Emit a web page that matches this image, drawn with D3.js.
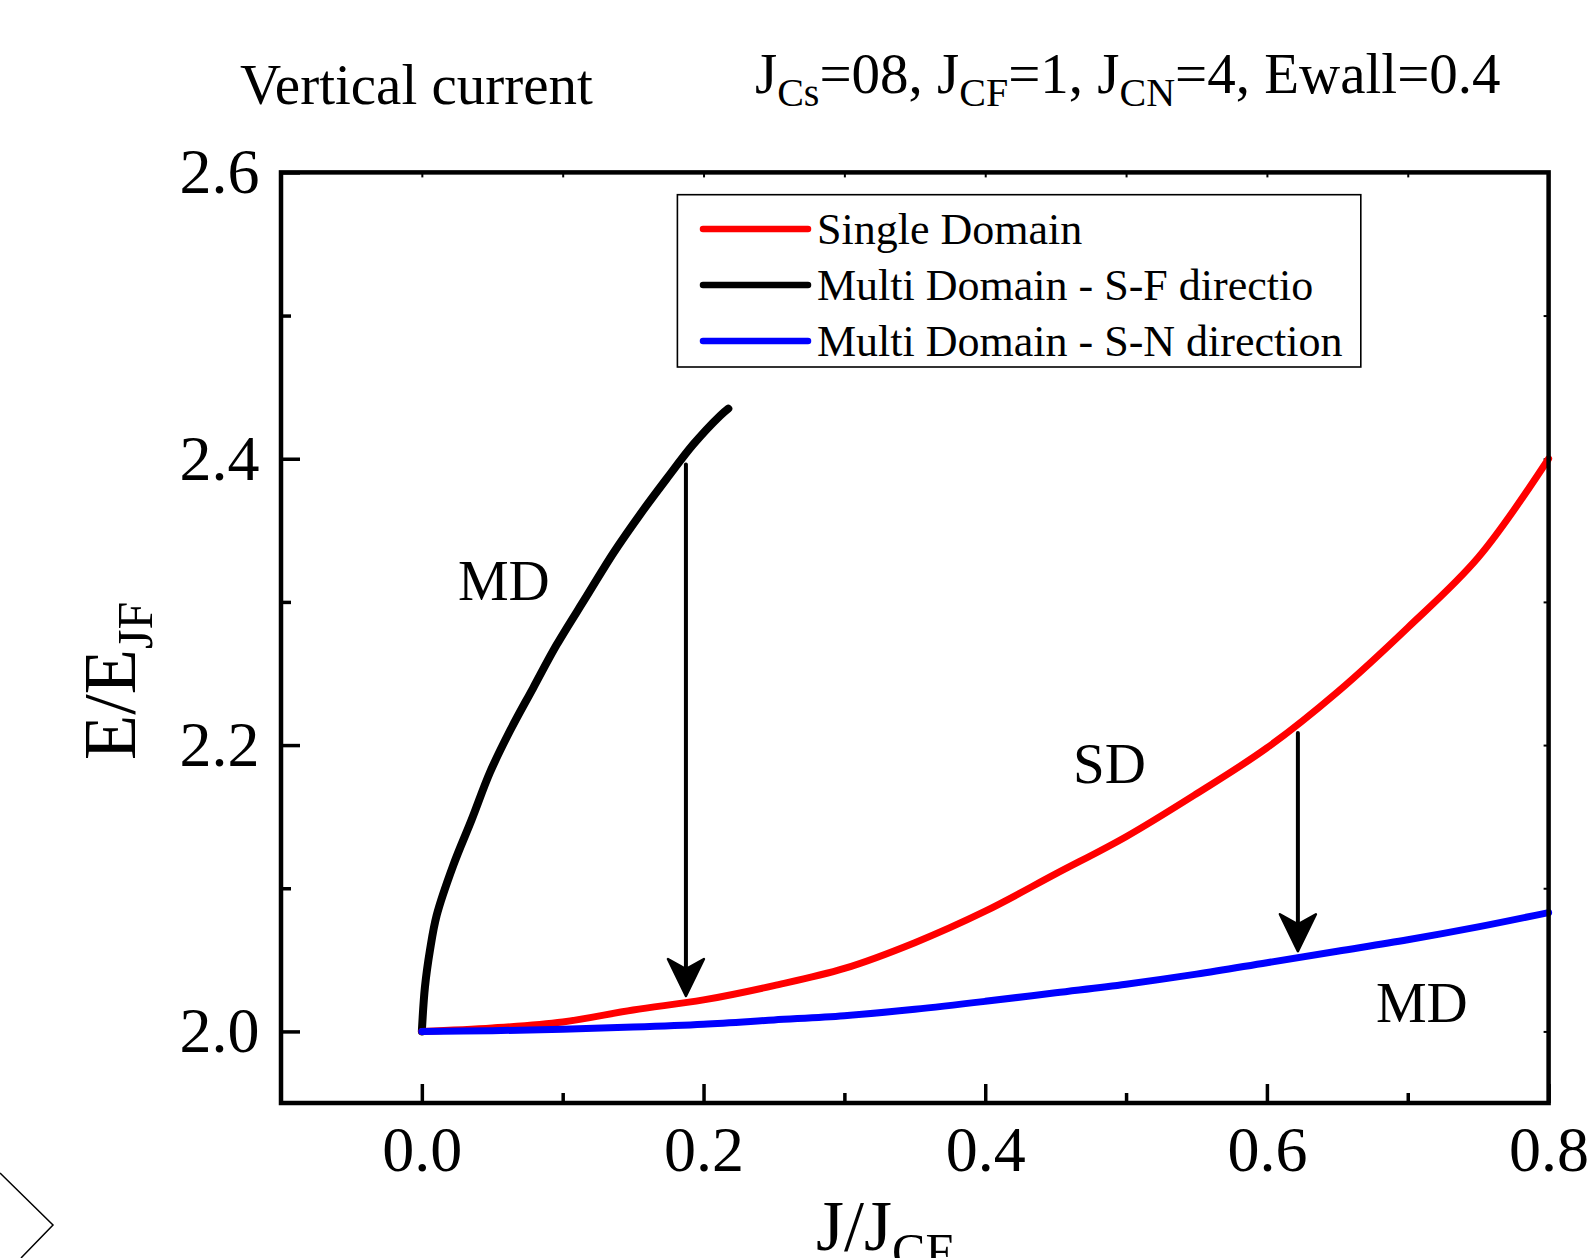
<!DOCTYPE html>
<html>
<head>
<meta charset="utf-8">
<script src="https://cdn.jsdelivr.net/npm/d3@7"></script>
<style>
  body { margin: 0; background: #fff; }
  svg { display: block; font-family: "Liberation Serif", "Times New Roman", serif; }
</style>
</head>
<body>
<svg id="chart" width="1590" height="1258"></svg>
<script>
// values
const sdJ = [0, 0.05, 0.1, 0.15, 0.2, 0.25, 0.3, 0.35, 0.4, 0.45, 0.5, 0.55, 0.6, 0.65, 0.7, 0.75, 0.8];
const sdE = [2.0, 2.0024, 2.0066, 2.015, 2.022, 2.032, 2.044, 2.062, 2.084, 2.110, 2.136, 2.166, 2.198, 2.237, 2.282, 2.331, 2.400];

const sfJ = [0, 0.0022, 0.0058, 0.0105, 0.0223, 0.0354, 0.0484, 0.0626, 0.0791, 0.0957, 0.117, 0.1359, 0.1549, 0.1738, 0.1927, 0.2117, 0.2176];
const sfE = [2.0, 2.031, 2.057, 2.081, 2.116, 2.148, 2.181, 2.210, 2.240, 2.270, 2.304, 2.334, 2.361, 2.386, 2.410, 2.430, 2.435];

const snJ = sdJ;
const snE = [2.0, 2.0005, 2.0015, 2.003, 2.005, 2.008, 2.011, 2.0155, 2.021, 2.027, 2.033, 2.040, 2.048, 2.056, 2.064, 2.073, 2.083];

const legendLabels = ["Single Domain", "Multi Domain - S-F directio", "Multi Domain - S-N direction"];
const legendColors = ["#ff0000", "#000000", "#0000ff"];

const xMajor = [0, 0.2, 0.4, 0.6, 0.8];
const xMinor = [0.1, 0.3, 0.5, 0.7];
const yMajor = [2.0, 2.2, 2.4, 2.6];
const yMinor = [2.1, 2.3, 2.5];

const annoText = ["MD", "SD", "MD"];
const annoJ = [0.0256, 0.4623, 0.6774];
const annoE = [2.301, 2.1735, 2.0066];

// arrows: x position, start and end value
const arrowJ = [0.1875, 0.622];
const arrowFrom = [2.396, 2.2084];
const arrowTo = [2.0247, 2.056];

const svg = d3.select("#chart");
const plotL = 281, plotR = 1548.6, plotT = 172.4, plotB = 1103;

const x = d3.scaleLinear().domain([-0.1, 0.8]).range([plotL, plotR]);
const y = d3.scaleLinear().domain([1.95, 2.6]).range([plotB, plotT]);

// header texts
svg.append("text")
  .attr("x", 240).attr("y", 104)
  .attr("font-size", 57)
  .text("Vertical current");

const hdrParts = [["J", 0], ["Cs", 1], ["=08, J", 0], ["CF", 1], ["=1, J", 0], ["CN", 1], ["=4, Ewall=0.4", 0]];
const hdr = svg.append("text").attr("x", 755).attr("y", 93).attr("font-size", 57);
let wasSub = 0;
hdrParts.forEach(([t, sub]) => {
  hdr.append("tspan")
    .attr("dy", sub === wasSub ? 0 : (sub ? 13 : -13))
    .attr("font-size", sub ? 40 : 57)
    .text(t);
  wasSub = sub;
});

// axes (ticks pointing inward)
function styleAxis(g) {
  g.select(".domain").remove();
  g.selectAll(".tick line").attr("stroke", "#000").attr("stroke-width", 3.5);
  g.selectAll(".tick text").attr("font-size", 64).attr("fill", "#000")
    .attr("font-family", "Liberation Serif, Times New Roman, serif");
}

svg.append("g")
  .attr("transform", `translate(0,${plotB})`)
  .call(d3.axisBottom(x).tickValues(xMajor).tickFormat(d3.format(".1f"))
    .tickSizeInner(-19).tickSizeOuter(0).tickPadding(22.6))
  .call(styleAxis);

svg.append("g")
  .attr("transform", `translate(0,${plotB})`)
  .call(d3.axisBottom(x).tickValues(xMinor).tickFormat("")
    .tickSizeInner(-10).tickSizeOuter(0))
  .call(styleAxis);

svg.append("g")
  .attr("transform", `translate(${plotL},0)`)
  .call(d3.axisLeft(y).tickValues(yMajor).tickFormat(d3.format(".1f"))
    .tickSizeInner(-19).tickSizeOuter(0).tickPadding(21.4))
  .call(styleAxis);

svg.append("g")
  .attr("transform", `translate(${plotL},0)`)
  .call(d3.axisLeft(y).tickValues(yMinor).tickFormat("")
    .tickSizeInner(-10).tickSizeOuter(0))
  .call(styleAxis);

// tiny ticks on the top and right borders
svg.append("g")
  .attr("transform", `translate(0,${plotT})`)
  .call(d3.axisTop(x).tickValues(xMajor.concat(xMinor)).tickFormat("")
    .tickSizeInner(-5).tickSizeOuter(0))
  .call(g => { g.select(".domain").remove(); g.selectAll(".tick line").attr("stroke-width", 2); });

svg.append("g")
  .attr("transform", `translate(${plotR},0)`)
  .call(d3.axisRight(y).tickValues(yMajor.concat(yMinor)).tickFormat("")
    .tickSizeInner(-5).tickSizeOuter(0))
  .call(g => { g.select(".domain").remove(); g.selectAll(".tick line").attr("stroke-width", 2); });

// axis titles
const yTitle = svg.append("text")
  .attr("transform", "translate(135,760) rotate(-90)")
  .attr("font-size", 74);
yTitle.append("tspan").text("E/E");
yTitle.append("tspan").attr("dy", 17).attr("font-size", 50).text("JF");

// the subscript runs off the bottom edge, as in the original
const xTitle = svg.append("text")
  .attr("x", 816).attr("y", 1250)
  .attr("font-size", 72);
xTitle.append("tspan").text("J/J");
xTitle.append("tspan").attr("dy", 18).attr("font-size", 50).text("CF");

// legend
const legend = svg.append("g");
legend.append("rect")
  .attr("x", 677.4).attr("y", 194.7)
  .attr("width", 683.4).attr("height", 172.3)
  .attr("fill", "#fff").attr("stroke", "#000").attr("stroke-width", 1.6);

legendLabels.forEach((lab, i) => {
  const ry = 229 + i * 56;
  legend.append("line")
    .attr("x1", 703).attr("x2", 808)
    .attr("y1", ry).attr("y2", ry)
    .attr("stroke", legendColors[i]).attr("stroke-width", 6.5)
    .attr("stroke-linecap", "round");
  legend.append("text")
    .attr("x", 817).attr("y", ry + 15)
    .attr("font-size", 44)
    .text(lab);
});

// curves
const line = d3.line()
  .x(d => x(d[0]))
  .y(d => y(d[1]))
  .curve(d3.curveCatmullRom.alpha(0.5));

const series = [
  { j: sfJ, e: sfE, color: "#000000", w: 8 },
  { j: sdJ, e: sdE, color: "#ff0000", w: 7 },
  { j: snJ, e: snE, color: "#0000ff", w: 7 }
];

series.forEach(s => {
  svg.append("path")
    .datum(s.j.map((v, i) => [v, s.e[i]]))
    .attr("d", line)
    .attr("fill", "none")
    .attr("stroke", s.color)
    .attr("stroke-width", s.w)
    .attr("stroke-linecap", "round")
    .attr("stroke-linejoin", "round");
});

// arrows
arrowJ.forEach((aj, i) => {
  const ax = x(aj), y0 = y(arrowFrom[i]), y1 = y(arrowTo[i]);
  svg.append("line")
    .attr("x1", ax).attr("x2", ax)
    .attr("y1", y0).attr("y2", y1 - 26)
    .attr("stroke", "#000").attr("stroke-width", 4)
    .attr("stroke-linecap", "round");
  svg.append("path")
    .attr("d", `M${ax},${y1} L${ax - 18},${y1 - 37} L${ax},${y1 - 27} L${ax + 18},${y1 - 37} Z`)
    .attr("fill", "#000").attr("stroke", "#000")
    .attr("stroke-width", 2.5).attr("stroke-linejoin", "round");
});

// region labels
annoText.forEach((t, i) => {
  svg.append("text")
    .attr("x", x(annoJ[i])).attr("y", y(annoE[i]))
    .attr("font-size", 57)
    .text(t);
});

// frame
svg.append("rect")
  .attr("x", plotL).attr("y", plotT)
  .attr("width", plotR - plotL).attr("height", plotB - plotT)
  .attr("fill", "none").attr("stroke", "#000").attr("stroke-width", 4.5);

// stray chevron in the lower left corner
svg.append("path")
  .attr("d", "M0,1173 L53,1225 L21,1258")
  .attr("fill", "none").attr("stroke", "#000").attr("stroke-width", 1.5);
</script>
</body>
</html>
